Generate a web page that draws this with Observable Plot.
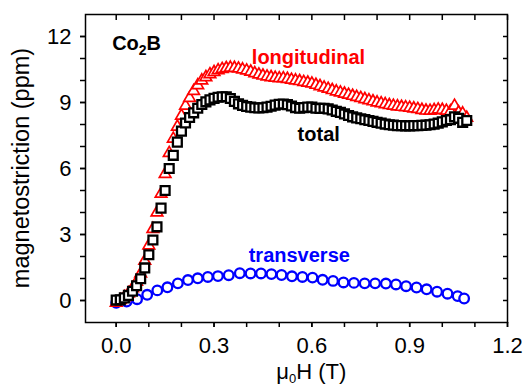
<!DOCTYPE html>
<html><head><meta charset="utf-8">
<script src="https://cdn.jsdelivr.net/npm/d3@7"></script>
<script src="https://cdn.jsdelivr.net/npm/@observablehq/plot@0.6"></script>
<style>body{margin:0;background:#fff}</style>
</head><body><div id="chart"></div>
<script>
// magnetic field (T) for longitudinal & total series
const field = [0.0000,0.0125,0.0250,0.0375,0.0500,0.0625,0.0750,0.0875,0.1000,0.1125,
  0.1250,0.1375,0.1500,0.1625,0.1750,0.1875,0.2000,0.2125,0.2250,0.2375,
  0.2500,0.2625,0.2750,0.2875,0.3000,0.3125,0.3250,0.3375,0.3500,0.3625,
  0.3750,0.3875,0.4000,0.4125,0.4250,0.4375,0.4500,0.4625,0.4750,0.4875,
  0.5000,0.5125,0.5250,0.5375,0.5500,0.5625,0.5750,0.5875,0.6000,0.6125,
  0.6250,0.6375,0.6500,0.6625,0.6750,0.6875,0.7000,0.7125,0.7250,0.7375,
  0.7500,0.7625,0.7750,0.7875,0.8000,0.8125,0.8250,0.8375,0.8500,0.8625,
  0.8750,0.8875,0.9000,0.9125,0.9250,0.9375,0.9500,0.9625,0.9750,0.9875,
  1.0000,1.0125,1.0250,1.0375,1.0500,1.0625,1.0750];
const longitudinal = [-0.10,0.02,0.15,0.32,0.55,0.85,1.22,1.80,2.50,3.25,
  4.00,4.85,5.75,6.70,7.35,7.90,8.40,8.85,9.20,9.52,
  9.78,10.00,10.15,10.28,10.38,10.46,10.52,10.56,10.58,10.57,
  10.54,10.50,10.45,10.40,10.33,10.27,10.22,10.18,10.15,10.12,
  10.10,10.10,10.07,10.03,10.00,9.97,9.93,9.90,9.86,9.80,
  9.74,9.68,9.62,9.56,9.50,9.45,9.40,9.35,9.30,9.25,
  9.20,9.15,9.10,9.05,9.00,8.96,8.92,8.88,8.85,8.82,
  8.80,8.78,8.76,8.73,8.70,8.66,8.63,8.62,8.65,8.68,
  8.66,8.62,8.60,8.85,8.55,8.50,8.30];
const total = [0.02,0.03,0.12,0.23,0.42,0.67,0.99,1.48,2.08,2.75,
  3.35,4.20,5.00,6.00,6.60,7.20,7.70,8.07,8.32,8.53,
  8.74,8.91,9.03,9.12,9.19,9.24,9.26,9.26,9.18,9.05,
  8.94,8.87,8.82,8.79,8.76,8.75,8.76,8.79,8.83,8.88,
  8.92,8.93,8.90,8.84,8.77,8.74,8.77,8.79,8.79,8.74,
  8.73,8.74,8.71,8.66,8.60,8.55,8.48,8.41,8.35,8.30,
  8.26,8.22,8.18,8.14,8.10,8.06,8.02,7.99,7.97,7.95,
  7.95,7.94,7.94,7.95,7.95,7.96,7.97,7.99,8.02,8.06,
  8.12,8.18,8.22,8.35,8.28,8.10,8.18];
const transverseField = [0.000,0.032,0.064,0.095,0.126,0.157,0.189,0.220,0.250,0.281,
  0.312,0.345,0.379,0.412,0.444,0.476,0.507,0.539,0.571,0.602,
  0.633,0.665,0.697,0.729,0.762,0.794,0.827,0.858,0.889,0.921,
  0.952,0.984,1.016,1.047,1.067];
const transverse = [-0.10,-0.05,0.06,0.26,0.46,0.60,0.78,0.93,1.01,1.07,
  1.11,1.15,1.24,1.23,1.23,1.20,1.16,1.10,1.07,1.04,
  0.94,0.89,0.82,0.80,0.78,0.78,0.77,0.73,0.65,0.59,
  0.51,0.40,0.31,0.20,0.09];

const xMajorTicks = [0, 0.3, 0.6, 0.9, 1.2];
const xMinorTicks = [0, 0.1, 0.2, 0.3, 0.4, 0.5, 0.6, 0.7, 0.8, 0.9, 1.0, 1.1, 1.2];
const yMajorTicks = [0, 3, 6, 9, 12];
const yMinorTicks = [0, 1, 2, 3, 4, 5, 6, 7, 8, 9, 10, 11, 12];

const longData = field.map((x, i) => ({x, y: longitudinal[i]}));
const totalData = field.map((x, i) => ({x, y: total[i]}));
const transData = transverseField.map((x, i) => ({x, y: transverse[i]}));

const font = "'Liberation Sans', Arial, Helvetica, sans-serif";
const blank = () => "";

const plot = Plot.plot({
  width: 525, height: 386,
  marginLeft: 85, marginRight: 18, marginTop: 14, marginBottom: 64,
  style: {fontFamily: font, fontSize: "22px", color: "black", background: "white"},
  x: {domain: [-0.0942, 1.2], label: null},
  y: {domain: [-1, 13], label: null},
  marks: [
    Plot.axisX({ticks: xMinorTicks, anchor: "bottom", tickSize: 5, tickFormat: blank, label: null, strokeWidth: 1.5}),
    Plot.axisX({ticks: xMajorTicks, anchor: "bottom", tickSize: 5, tickPadding: 10, tickFormat: d3.format(".1f"), label: null, strokeWidth: 1.5}),
    Plot.axisX({ticks: xMinorTicks, anchor: "top", tickSize: -5, tickFormat: blank, label: null, strokeWidth: 1.5}),
    Plot.axisY({ticks: yMinorTicks, anchor: "left", tickSize: 5, tickFormat: blank, label: null, strokeWidth: 1.5}),
    Plot.axisY({ticks: yMajorTicks, anchor: "left", tickSize: 5, tickPadding: 9, tickFormat: d3.format("d"), label: null, strokeWidth: 1.5}),
    Plot.axisY({ticks: yMinorTicks, anchor: "right", tickSize: -5, tickFormat: blank, label: null, strokeWidth: 1.5}),
    Plot.dot(transData, {x: "x", y: "y", r: 4.8, stroke: "#0000ff", strokeWidth: 2.3, fill: "white"}),
    Plot.dot(longData, {x: "x", y: "y", symbol: "triangle", r: 4.3, stroke: "#ff0000", strokeWidth: 1.7, fill: "white"}),
    Plot.dot(totalData, {x: "x", y: "y", symbol: "square", r: 5, stroke: "black", strokeWidth: 2.3, fill: "white"}),
    Plot.text(["longitudinal"], {x: 0.5897, y: 10.76, text: d => d, lineAnchor: "bottom", fontSize: 20, fontWeight: "bold", fill: "#ff0000"}),
    Plot.text(["total"], {x: 0.621, y: 7.27, text: d => d, lineAnchor: "bottom", fontSize: 20, fontWeight: "bold", fill: "black"}),
    Plot.text(["transverse"], {x: 0.5615, y: 1.77, text: d => d, lineAnchor: "bottom", fontSize: 20, fontWeight: "bold", fill: "#0000ff"}),
    Plot.frame({stroke: "black", strokeWidth: 1.5})
  ]
});

const svg = d3.select(plot);
const sx = plot.scale("x"), sy = plot.scale("y");

// Co2B label
const co = svg.append("text")
  .attr("x", sx.apply(-0.011)).attr("y", sy.apply(11.37))
  .attr("text-anchor", "start")
  .attr("font-family", font).attr("font-size", 20).attr("font-weight", "bold").attr("fill", "black");
co.append("tspan").text("Co");
co.append("tspan").attr("font-size", 14).attr("dy", 5).text("2");
co.append("tspan").attr("dy", -5).text("B");

// x axis title
const xt = svg.append("text")
  .attr("x", sx.apply(0.6)).attr("y", 379)
  .attr("text-anchor", "middle")
  .attr("font-family", font).attr("font-size", 22).attr("fill", "black");
xt.append("tspan").text("μ");
xt.append("tspan").attr("font-size", 13).attr("dy", 4).text("0");
xt.append("tspan").attr("dy", -4).text("H (T)");

// y axis title
svg.append("text")
  .attr("transform", `translate(29,${sy.apply(6)}) rotate(-90)`)
  .attr("text-anchor", "middle")
  .attr("font-family", font).attr("font-size", 23.5).attr("fill", "black")
  .text("magnetostriction (ppm)");

document.getElementById("chart").appendChild(plot);
</script>
</body></html>
